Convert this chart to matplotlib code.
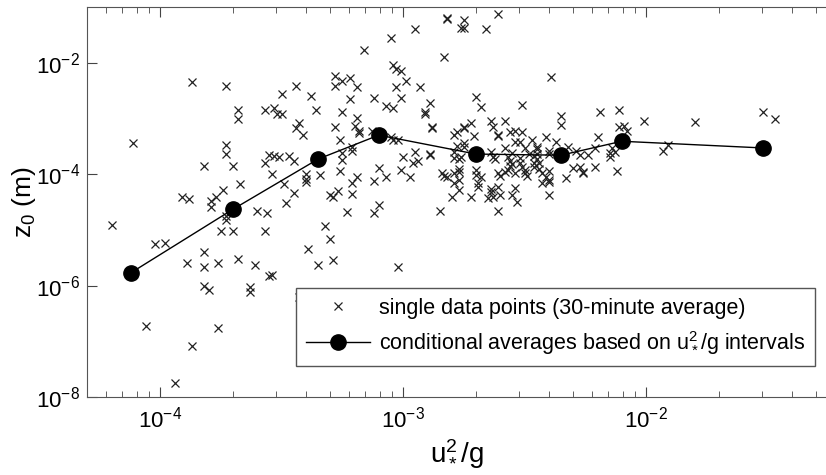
import numpy as np
import matplotlib.pyplot as plt
from matplotlib.ticker import LogLocator, NullLocator

plt.rcParams['font.family'] = ['Liberation Sans', 'DejaVu Sans']
plt.rcParams['mathtext.fontset'] = 'custom'
plt.rcParams['mathtext.rm'] = 'Liberation Sans'
plt.rcParams['mathtext.it'] = 'Liberation Sans:italic'
plt.rcParams['mathtext.default'] = 'regular'
plt.rcParams['axes.unicode_minus'] = False

# single 30-min points, stored as log10 values
log_ustar2g = [
    -4.20, -4.11, -3.87, -3.73, -3.68, -3.68, -3.57, -3.73, -3.73, -3.82,
    -3.70, -3.57, -3.55, -3.54, -3.67, -3.74, -3.91, -3.88, -3.79, -3.79,
    -3.77, -3.73, -3.73, -3.75, -3.70, -3.57, -3.60, -3.56, -4.02, -3.98,
    -3.82, -3.89, -3.82, -3.76, -3.68, -3.61, -3.55, -3.82, -3.80, -3.63,
    -3.63, -4.06, -3.76, -3.87, -3.94,
    -3.53, -3.52, -3.50, -3.53, -3.51, -3.50, -3.44, -3.38, -3.36, -3.44,
    -3.43, -3.41, -3.47, -3.45, -3.40, -3.40, -3.40, -3.34, -3.49, -3.45,
    -3.48, -3.28, -3.28, -3.25, -3.22, -3.19, -3.22, -3.25, -3.19, -3.20,
    -3.18, -3.18, -3.28, -3.26, -3.21, -3.21, -3.25, -3.25, -3.26, -3.21,
    -3.19, -3.30, -3.29, -3.27, -3.21, -3.23, -3.16, -3.12, -3.07, -3.04,
    -3.05, -3.04, -3.03, -3.01, -2.99, -3.03, -3.01, -2.95, -2.93, -2.89,
    -2.91, -2.91, -2.88, -2.88, -3.13, -3.05, -3.04, -3.02, -3.00, -2.96,
    -2.95, -2.94, -2.89, -2.89, -3.10, -3.12, -3.07, -3.01, -2.97, -2.84,
    -2.83, -2.82, -2.79, -2.79, -2.79, -2.79, -2.79, -2.83, -2.82, -2.82,
    -2.80, -3.12, -3.10, -2.85, -3.32, -3.30, -3.39, -3.35, -3.29, -3.02,
    -3.54, -3.43,
    -2.75, -2.76, -2.75, -2.61, -2.66, -2.39, -2.70, -2.68, -2.51, -2.35,
    -2.35, -2.19, -2.11, -2.11, -2.09, -2.08, -2.78, -2.75, -2.75, -2.72,
    -2.64, -2.63, -2.58, -2.71, -2.61, -2.61, -2.56, -2.54, -2.51, -2.41,
    -2.47, -2.54, -2.52, -2.37, -2.20, -2.21, -2.78, -2.75, -2.75, -2.64,
    -2.58, -2.55, -2.50, -2.45, -2.45, -2.40, -2.40, -2.45, -2.48, -2.32,
    -2.29, -2.27, -2.24, -2.14, -2.15, -2.13, -2.15, -2.77, -2.76, -2.77,
    -2.77, -2.70, -2.70, -2.68, -2.69, -2.63, -2.62, -2.57, -2.56, -2.52,
    -2.52, -2.46, -2.45, -2.61, -2.60, -2.58, -2.57, -2.56, -2.55, -2.54,
    -2.50, -2.50, -2.49, -2.51, -2.46, -2.44, -2.43, -2.30, -2.27, -2.26,
    -2.21, -2.26, -2.12, -2.40, -2.41, -2.40, -2.43, -2.40, -2.33, -2.77,
    -2.77, -2.69, -2.64, -2.64, -2.61, -2.60, -2.63, -2.72, -2.55, -2.54,
    -2.40, -2.46, -2.44, -2.65, -2.61, -2.53,
    -2.01, -1.80, -1.52, -1.47, -1.93, -1.91,
]
log_z0 = [
    -4.91, -3.44, -2.35, -2.42, -2.84, -3.01, -2.85, -3.48, -3.64, -3.86,
    -3.86, -3.80, -3.66, -4.00, -4.18, -4.29, -4.41, -4.45, -4.48, -4.59,
    -4.41, -4.75, -4.82, -5.02, -5.02, -5.02, -4.66, -4.70, -5.25, -5.24,
    -5.40, -5.59, -5.67, -5.59, -5.52, -5.63, -5.83, -6.01, -6.08, -6.03,
    -6.11, -6.72, -6.76, -7.08, -7.75,
    -2.82, -2.92, -2.92, -3.68, -3.70, -2.57, -2.42, -2.60, -2.84, -3.18,
    -3.09, -3.30, -3.68, -3.77, -4.00, -4.09, -4.14, -4.02, -4.18, -4.34,
    -4.52, -2.24, -2.42, -2.32, -2.28, -2.44, -2.66, -2.89, -3.00, -3.14,
    -3.27, -3.23, -3.16, -3.39, -3.52, -3.59, -3.62, -3.75, -3.95, -4.16,
    -4.05, -4.38, -4.41, -4.30, -4.36, -4.68, -1.78, -2.64, -2.78, -2.82,
    -1.56, -2.05, -2.12, -2.14, -2.32, -2.44, -2.64, -1.40, -2.44, -2.73,
    -2.89, -2.92, -3.16, -3.18, -3.23, -3.34, -3.39, -3.39, -3.70, -3.80,
    -3.61, -3.77, -3.64, -3.66, -3.89, -4.13, -4.05, -3.93, -4.05, -3.98,
    -4.04, -4.05, -3.98, -4.16, -3.30, -3.61, -3.71, -1.90, -1.19, -1.22,
    -4.41, -4.70, -4.56, -4.66, -4.93, -5.16, -5.34, -5.63, -5.54, -5.67,
    -5.81, -6.20,
    -1.24, -1.37, -1.37, -1.13, -1.40, -2.26, -2.62, -2.80, -2.76, -2.96,
    -3.12, -2.89, -2.84, -3.16, -3.14, -3.23, -3.25, -3.18, -3.16, -3.09,
    -3.05, -3.16, -3.05, -3.32, -3.30, -3.32, -3.25, -3.23, -3.25, -3.34,
    -3.39, -3.43, -3.43, -3.43, -3.34, -3.53, -3.50, -3.44, -3.52, -3.61,
    -3.53, -3.62, -3.53, -3.52, -3.55, -3.59, -3.64, -3.64, -3.64, -3.52,
    -3.59, -3.66, -3.66, -3.53, -3.62, -3.61, -3.70, -3.73, -3.70, -3.91,
    -3.96, -3.93, -4.02, -4.05, -4.16, -3.70, -3.73, -3.70, -3.77, -3.71,
    -3.80, -3.68, -3.73, -3.98, -4.04, -3.96, -3.93, -3.86, -3.82, -3.98,
    -3.93, -3.98, -4.04, -3.87, -3.87, -3.91, -3.98, -3.89, -3.87, -3.96,
    -3.87, -3.98, -3.95, -3.95, -4.05, -4.11, -4.16, -4.14, -4.07, -4.11,
    -4.29, -4.23, -4.32, -4.27, -4.23, -4.38, -4.41, -4.41, -4.38, -4.25,
    -4.38, -3.80, -3.80, -4.43, -4.66, -4.50,
    -3.05, -3.07, -2.89, -3.01, -3.59, -3.48,
]

# conditional averages over u*^2/g bins (log10)
avg_log_ustar2g = [-4.12, -3.70, -3.35, -3.10, -2.70, -2.35, -2.10, -1.52]
avg_log_z0 = [-5.77, -4.63, -3.73, -3.30, -3.64, -3.66, -3.41, -3.53]

x = 10 ** np.array(log_ustar2g)
z0 = 10 ** np.array(log_z0)
xa = 10 ** np.array(avg_log_ustar2g)
za = 10 ** np.array(avg_log_z0)

fig = plt.figure(figsize=(8.26, 4.75), dpi=100)
ax = fig.add_axes([0.1053, 0.1642, 0.8947, 0.8211])

ax.plot(x, z0, 'x', color='#222222', ms=5.5, mew=0.9,
        label='single data points (30-minute average)')
ax.plot(xa, za, '-o', color='black', lw=1, ms=11,
        label='conditional averages based on $u_*^2$/g intervals')

ax.set_xscale('log')
ax.set_yscale('log')
ax.set_xlim(5e-5, 0.055)
ax.set_ylim(1e-8, 1e-1)
ax.set_yticks([1e-8, 1e-6, 1e-4, 1e-2])
ax.yaxis.set_minor_locator(NullLocator())
ax.xaxis.set_minor_locator(LogLocator(subs=np.arange(2, 10)))
ax.tick_params(which='both', direction='in', top=True, right=False,
               labelsize=16, color='#444444')
ax.tick_params(which='major', length=7)
ax.tick_params(which='minor', length=4)
ax.tick_params(axis='x', pad=7)
ax.tick_params(axis='y', pad=5)
for s in ['left', 'top', 'bottom']:
    ax.spines[s].set_color('#555555')
ax.spines['right'].set_visible(False)

ax.set_xlabel('$u_*^2$/g', fontsize=20, labelpad=4)
ax.set_ylabel('$z_0$ (m)', fontsize=19)
ax.yaxis.set_label_coords(-0.066, 0.5)

ax.legend(loc='lower right', bbox_to_anchor=(0.985, 0.0795), fontsize=15.5,
          fancybox=False, edgecolor='#555555', framealpha=1,
          handlelength=3, handletextpad=0.4, borderpad=0.45,
          labelspacing=0.5, borderaxespad=0)

fig.savefig('out.png', dpi=100)
